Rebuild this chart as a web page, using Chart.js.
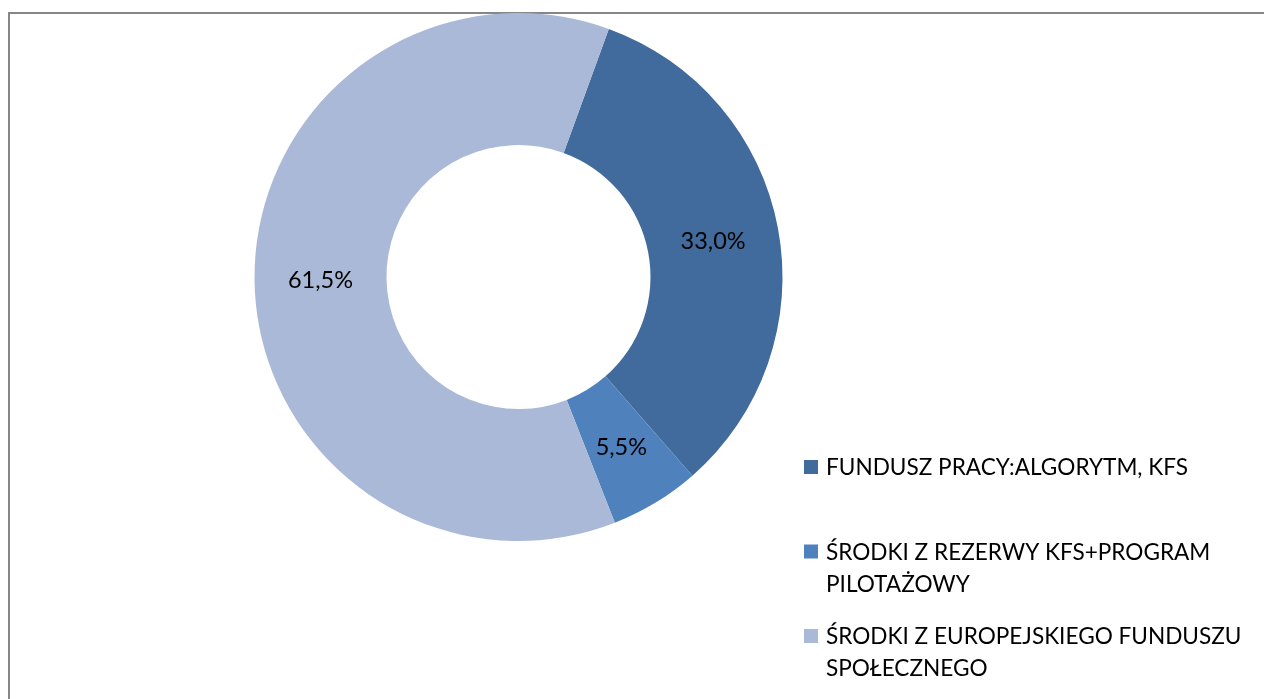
<!DOCTYPE html>
<html>
<head>
<meta charset="utf-8">
<script src="https://cdn.jsdelivr.net/npm/chart.js@4.4.0/dist/chart.umd.min.js"></script>
<style>
  html, body { margin: 0; padding: 0; background: #fff; }
  #wrap { width: 1264px; height: 699px; position: relative; }
</style>
</head>
<body>
<div id="wrap"><canvas id="fundsChart"></canvas></div>
<script>
const categories = [
    ['FUNDUSZ PRACY:ALGORYTM, KFS'],
    ['ŚRODKI Z REZERWY KFS+PROGRAM', 'PILOTAŻOWY'],
    ['ŚRODKI Z EUROPEJSKIEGO FUNDUSZU', 'SPOŁECZNEGO']
];
const shares = [33.0, 5.5, 61.5];
const sliceColors = ['#416B9C', '#4F81BD', '#AAB9D7'];

const FONT = 'Lato, "Open Sans", sans-serif';

// gray frame of the chart box (only left and top edges are in view)
const framePlugin = {
    id: 'frame',
    beforeDraw(chart) {
        const c = chart.ctx;
        c.save();
        c.strokeStyle = '#868686';
        c.lineWidth = 2;
        c.beginPath();
        c.moveTo(9, 699);
        c.lineTo(9, 13);
        c.lineTo(1264, 13);
        c.stroke();
        c.restore();
    }
};

// percentage labels in the middle of each ring segment
const valueLabels = {
    id: 'valueLabels',
    afterDatasetsDraw(chart) {
        const c = chart.ctx;
        const meta = chart.getDatasetMeta(0);
        c.save();
        c.font = '23.5px ' + FONT;
        c.fillStyle = '#000';
        c.textAlign = 'center';
        c.textBaseline = 'middle';
        meta.data.forEach(function (arc, i) {
            const p = arc.tooltipPosition();
            c.fillText(shares[i].toFixed(1).replace('.', ',') + '%', p.x, p.y + 1);
        });
        c.restore();
    }
};

// legend on the right, lines wrapped like the original
const sideLegend = {
    id: 'sideLegend',
    afterDraw(chart) {
        const c = chart.ctx;
        const labels = chart.data.labels;
        const colors = chart.data.datasets[0].backgroundColor;
        c.save();
        c.font = '22.6px ' + FONT;
        c.textAlign = 'left';
        c.textBaseline = 'alphabetic';
        labels.forEach(function (lines, i) {
            const base = 475 + i * 84.5;
            c.fillStyle = colors[i];
            c.fillRect(804, base - 15, 14, 14);
            c.fillStyle = '#000';
            lines.forEach(function (line, j) {
                c.fillText(line, 826, base + j * 32);
            });
        });
        c.restore();
    }
};

let ctx = document.getElementById('fundsChart').getContext('2d');
let fundsChart = new Chart(ctx, {
    type: 'doughnut',
    data: {
        labels: categories,
        datasets: [{
            data: shares,
            backgroundColor: sliceColors,
            borderColor: '#ffffff',
            borderWidth: 0
        }]
    },
    options: {
        responsive: true,
        maintainAspectRatio: false,
        animation: false,
        rotation: 20,
        cutout: '50%',
        layout: {
            padding: { left: 254, right: 481, top: 13, bottom: 158 }
        },
        plugins: {
            legend: { display: false },
            tooltip: { enabled: false }
        }
    },
    plugins: [framePlugin, valueLabels, sideLegend]
});
</script>
</body>
</html>
